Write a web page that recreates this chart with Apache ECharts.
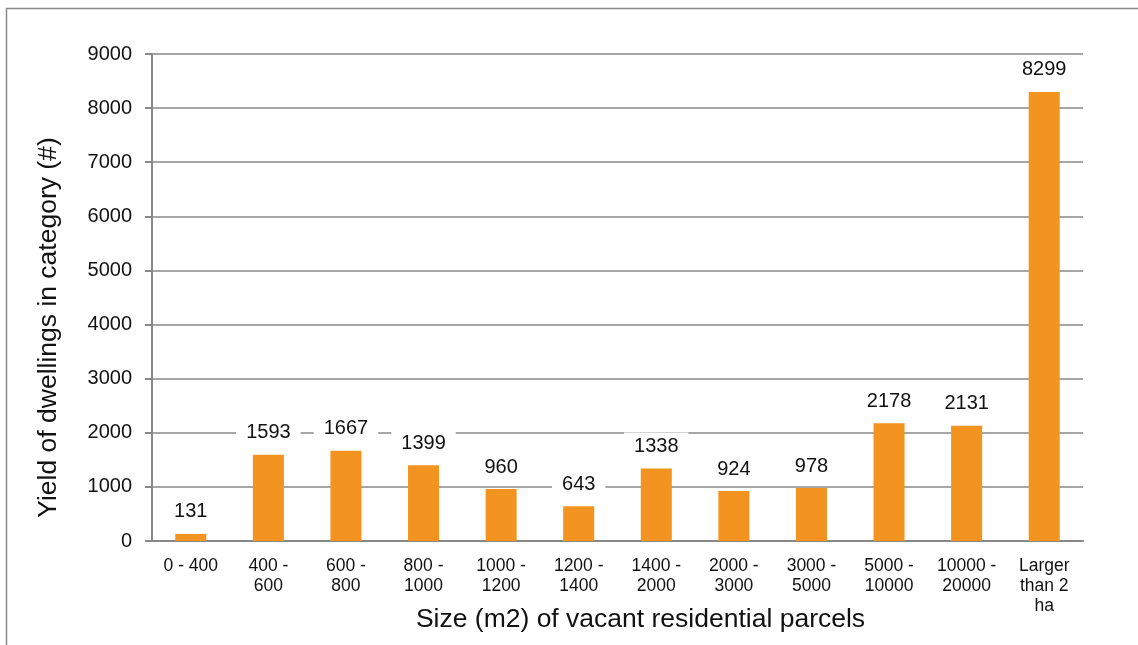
<!DOCTYPE html>
<html>
<head>
<meta charset="utf-8">
<script src="https://cdn.jsdelivr.net/npm/echarts@6/dist/echarts.min.js"></script>
<style>
  html, body { margin: 0; padding: 0; background: #fff; }
  #main { width: 1138px; height: 645px; }
</style>
</head>
<body>
<div id="main"></div>
<script>
var categories = ["0 - 400", "400 -\n600", "600 -\n800", "800 -\n1000", "1000 -\n1200", "1200 -\n1400",
  "1400 -\n2000", "2000 -\n3000", "3000 -\n5000", "5000 -\n10000", "10000 -\n20000", "Larger\nthan 2\nha"];
var dwellings = [131, 1593, 1667, 1399, 960, 643, 1338, 924, 978, 2178, 2131, 8299];

var chart = echarts.init(document.getElementById("main"));
var option = {
  backgroundColor: "#fff",
  animation: false,
  textStyle: { fontFamily: "Liberation Sans, Arial, sans-serif" },
  graphic: [
    {
      type: "rect",
      shape: { x: 6.5, y: 8.5, width: 1140, height: 650 },
      style: { fill: "none", stroke: "#8a8a8a", lineWidth: 1.5 }
    }
  ],
  grid: { left: 152, right: 55, top: 54, bottom: 104, containLabel: false, outerBoundsMode: "none" },
  xAxis: {
    type: "category",
    data: categories,
    name: "Size (m2) of vacant residential parcels",
    nameLocation: "middle",
    nameGap: 65,
    nameMoveOverlap: false,
    nameTextStyle: { fontSize: 26.5, color: "#111", padding: [0, 0, 0, 46] },
    axisLine: { lineStyle: { color: "#888", width: 2 } },
    axisTick: { show: false },
    axisLabel: { color: "#111", fontSize: 17.5, lineHeight: 20, margin: 15, interval: 0 }
  },
  yAxis: {
    type: "value",
    min: 0,
    max: 9000,
    interval: 1000,
    name: "Yield of dwellings in category (#)",
    nameLocation: "middle",
    nameGap: 90,
    nameMoveOverlap: false,
    nameTextStyle: { fontSize: 26.5, color: "#111", padding: [0, 60, 0, 0] },
    axisLine: { show: true, lineStyle: { color: "#888", width: 2 } },
    axisTick: { show: true, length: 7, lineStyle: { color: "#888", width: 2 } },
    axisLabel: { color: "#111", fontSize: 20, margin: 20, formatter: function (v) { return String(v); } },
    splitLine: { lineStyle: { color: "#888", width: 1.6 } }
  },
  series: [
    {
      type: "bar",
      data: dwellings,
      barWidth: "40%",
      itemStyle: { color: "#f39420" },
      label: {
        show: true,
        position: "top",
        distance: 8,
        color: "#111",
        fontSize: 20,
        backgroundColor: "#fff",
        padding: [4, 10]
      }
    }
  ]
};
chart.setOption(option);
</script>
</body>
</html>
